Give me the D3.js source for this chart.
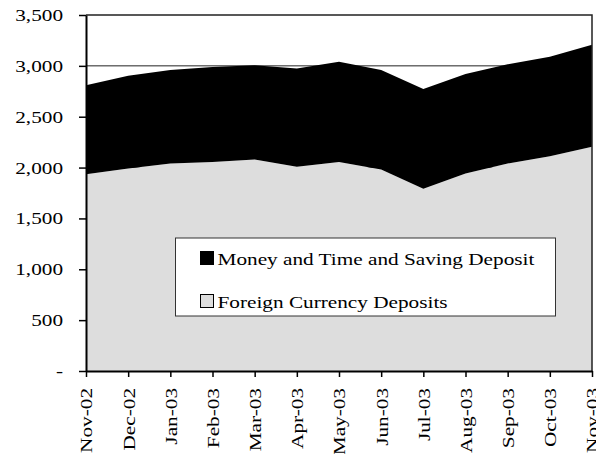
<!DOCTYPE html>
<html>
<head>
<meta charset="utf-8">
<script src="https://cdn.jsdelivr.net/npm/d3@7"></script>
<style>
  body { margin: 0; background: #fff; }
  svg { display: block; font-family: "Liberation Serif", "Times New Roman", serif; }
</style>
</head>
<body>
<svg id="chart" width="596" height="454"></svg>
<script>
const months = ["Nov-02", "Dec-02", "Jan-03", "Feb-03", "Mar-03", "Apr-03", "May-03",
  "Jun-03", "Jul-03", "Aug-03", "Sep-03", "Oct-03", "Nov-03"];
const foreignDeposits = [1935, 1990, 2040, 2056, 2080, 2007, 2055, 1981, 1791, 1942, 2040, 2112, 2204];
const moneyDeposits = [875, 913, 919, 932, 925, 968, 985, 978, 981, 977, 975, 978, 1004];
const yTicks = [0, 500, 1000, 1500, 2000, 2500, 3000, 3500];
const seriesNames = ["Money and Time and Saving Deposit", "Foreign Currency Deposits"];

const MARGIN = { top: 15, right: 4, bottom: 83, left: 86 };
const W = 596, H = 454;
const width = W - MARGIN.left - MARGIN.right;
const height = H - MARGIN.top - MARGIN.bottom;
const SX = 1.25; // text is drawn wide in the original

const rows = months.map((m, i) => ({ month: m, foreign: foreignDeposits[i], money: moneyDeposits[i] }));
const stacked = d3.stack().keys(["foreign", "money"])(rows);

const x = d3.scalePoint().domain(months).range([0, width]);
const y = d3.scaleLinear().domain([0, 3500]).range([height, 0]);
const fill = { foreign: "#dddddd", money: "#000000" };

const svg = d3.select("#chart");
const g = svg.append("g").attr("transform", `translate(${MARGIN.left},${MARGIN.top})`);

// gridlines behind the areas
g.append("g")
  .selectAll("line")
  .data(yTicks.filter(d => d > 0 && d < 3500))
  .join("line")
  .attr("x1", 0)
  .attr("x2", width)
  .attr("y1", d => y(d))
  .attr("y2", d => y(d))
  .attr("stroke", "#222")
  .attr("stroke-width", 1);

const area = d3.area()
  .x(d => x(d.data.month))
  .y0(d => y(d[0]))
  .y1(d => y(d[1]));

g.append("g")
  .selectAll("path")
  .data(stacked)
  .join("path")
  .attr("d", area)
  .attr("fill", d => fill[d.key]);

// frame top and right
g.append("path")
  .attr("d", `M0,0H${width}V${height}`)
  .attr("fill", "none")
  .attr("stroke", "#222")
  .attr("stroke-width", 1.5);

// axes
const yAxis = g.append("g")
  .call(d3.axisLeft(y).tickValues(yTicks).tickSize(7).tickSizeOuter(0)
    .tickFormat(d => (d === 0 ? "-" : d3.format(",")(d))));
yAxis.select(".domain").attr("stroke", "#000").attr("stroke-width", 2);
yAxis.selectAll(".tick line").attr("stroke", "#000").attr("stroke-width", 1.5);
yAxis.selectAll(".tick text")
  .attr("font-size", 17)
  .attr("font-family", "Liberation Serif")
  .attr("fill", "#000")
  .attr("x", -23 / SX)
  .attr("transform", `scale(${SX},1)`);

const xAxis = g.append("g")
  .attr("transform", `translate(0,${height})`)
  .call(d3.axisBottom(x).tickSize(6).tickSizeOuter(0));
xAxis.select(".domain").attr("stroke", "#000").attr("stroke-width", 2);
xAxis.selectAll(".tick line").attr("stroke", "#000").attr("stroke-width", 1.5);
xAxis.selectAll(".tick text")
  .attr("font-size", 17)
  .attr("font-family", "Liberation Serif")
  .attr("fill", "#000")
  .attr("text-anchor", "end")
  .attr("x", -17 / SX)
  .attr("y", 0)
  .attr("dy", "0.35em")
  .attr("transform", `rotate(-90) scale(${SX},1)`);

// legend
const legend = svg.append("g").attr("transform", "translate(175.5,238)");
legend.append("rect")
  .attr("width", 380)
  .attr("height", 78)
  .attr("fill", "#fff")
  .attr("stroke", "#333")
  .attr("stroke-width", 1);

const legendItems = [
  { name: seriesNames[0], color: fill.money },
  { name: seriesNames[1], color: fill.foreign }
];
const item = legend.selectAll("g.item")
  .data(legendItems)
  .join("g")
  .attr("class", "item")
  .attr("transform", (d, i) => `translate(25,${13.5 + i * 43})`);
item.append("rect")
  .attr("width", 13)
  .attr("height", 13)
  .attr("fill", d => d.color)
  .attr("stroke", "#000")
  .attr("stroke-width", 1);
item.append("text")
  .attr("transform", `translate(17,13) scale(${SX},1)`)
  .attr("font-size", 17)
  .attr("fill", "#000")
  .text(d => d.name);
</script>
</body>
</html>
